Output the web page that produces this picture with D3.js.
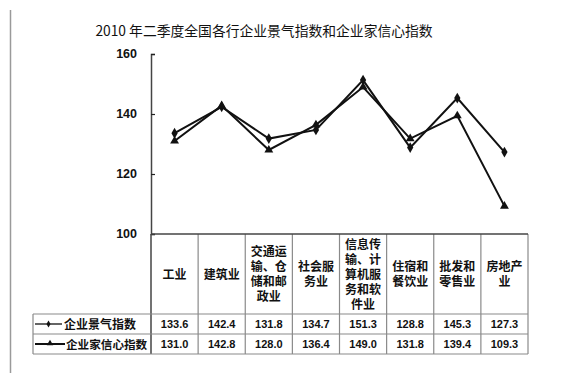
<!DOCTYPE html>
<html><head><meta charset="utf-8">
<script src="https://cdn.jsdelivr.net/npm/d3@7"></script>
<style>
html,body{margin:0;padding:0;background:#fff;}
text{font-family:"Liberation Sans","Noto Sans CJK SC",sans-serif;}
.cjk{font-family:"Noto Sans CJK SC","Liberation Sans",sans-serif;}
</style></head>
<body>
<svg id="chart" width="562" height="373"></svg>
<script>
const title = "2010 年二季度全国各行企业景气指数和企业家信心指数";
const categories = [
  ["工业"],
  ["建筑业"],
  ["交通运","输、仓","储和邮","政业"],
  ["社会服","务业"],
  ["信息传","输、计","算机服","务和软","件业"],
  ["住宿和","餐饮业"],
  ["批发和","零售业"],
  ["房地产","业"]
];
const seriesNames = ["企业景气指数", "企业家信心指数"];
const prosperity = [133.6, 142.4, 131.8, 134.7, 151.3, 128.8, 145.3, 127.3];
const confidence = [131.0, 142.8, 128.0, 136.4, 149.0, 131.8, 139.4, 109.3];
const yTicks = [100, 120, 140, 160];

(function(){
const svg = d3.select("#chart");
const pLeft = 151, pRight = 528, pTop = 54, pBottom = 234;
const tableLeft = 33, headerBottom = 314, row1Bottom = 334, row2Bottom = 354;

const x = d3.scaleBand().domain(d3.range(categories.length)).range([pLeft, pRight]);
const y = d3.scaleLinear().domain([100, 160]).range([pBottom, pTop]);

// left page line
svg.append("line").attr("x1",10.5).attr("x2",10.5).attr("y1",10).attr("y2",373)
  .attr("stroke","#9a9a9a").attr("stroke-width",1.5);

// title
svg.append("text").attr("class","cjk").attr("x",264).attr("y",36)
  .attr("text-anchor","middle").attr("font-size",13.8).attr("fill","#111").text(title);

// y axis
const yAxis = d3.axisRight(y).tickValues(yTicks).tickSize(4).tickFormat("");
const yg = svg.append("g").attr("transform",`translate(${pLeft},0)`).call(yAxis);
yg.select(".domain").attr("stroke","#444").attr("stroke-width",1.5);
yg.selectAll(".tick line").attr("stroke","#222").attr("stroke-width",1.2);
svg.selectAll(".ytl").data(yTicks).enter().append("text")
  .attr("x",137).attr("y",d=>y(d)+4).attr("text-anchor","end")
  .attr("font-size",12.5).attr("font-weight","bold").attr("fill","#111").text(d=>d);

// table grid
const grid = svg.append("g").attr("stroke","#8a8a8a").attr("stroke-width",1.2).attr("fill","none");
d3.range(categories.length+1).forEach(i=>{
  const xx = i===categories.length ? pRight : x(i);
  grid.append("line").attr("x1",xx).attr("x2",xx).attr("y1",pBottom).attr("y2",row2Bottom)
    .attr("stroke", i===0 ? "#444" : "#8a8a8a").attr("stroke-width", i===0 ? 1.5 : 1.2);
});
grid.append("line").attr("x1",tableLeft).attr("x2",tableLeft).attr("y1",headerBottom).attr("y2",row2Bottom);
[headerBottom,row1Bottom,row2Bottom].forEach(yy=>{
  grid.append("line").attr("x1",tableLeft).attr("x2",pRight).attr("y1",yy).attr("y2",yy);
});
svg.append("line").attr("x1",pLeft).attr("x2",pRight).attr("y1",pBottom).attr("y2",pBottom)
  .attr("stroke","#444").attr("stroke-width",1.5);

// category header labels
const lh = 15;
categories.forEach((lines,i)=>{
  const cx = x(i)+x.bandwidth()/2;
  const cy = (pBottom+headerBottom)/2;
  const t = svg.append("text").attr("class","cjk").attr("text-anchor","middle")
    .attr("font-size",12).attr("font-weight","bold").attr("fill","#111");
  lines.forEach((ln,j)=>{
    t.append("tspan").attr("x",cx).attr("y",cy + (j-(lines.length-1)/2)*lh + 4.5).text(ln);
  });
});

// values rows
const rows = [prosperity, confidence];
const rowCenters = [(headerBottom+row1Bottom)/2, (row1Bottom+row2Bottom)/2];
rows.forEach((vals,r)=>{
  svg.selectAll(".v"+r).data(vals).enter().append("text")
    .attr("x",(d,i)=>x(i)+x.bandwidth()/2).attr("y",rowCenters[r]+4)
    .attr("text-anchor","middle").attr("font-size",11).attr("font-weight","bold")
    .attr("fill","#111").text(d=>d.toFixed(1));
});

// legend in table
svg.append("line").attr("x1",35).attr("x2",62).attr("y1",rowCenters[0]).attr("y2",rowCenters[0])
  .attr("stroke","#111").attr("stroke-width",1.3);
svg.append("path").attr("d",d3.symbol(d3.symbolDiamond,14)())
  .attr("transform",`translate(48.5,${rowCenters[0]})`).attr("fill","#111");
svg.append("text").attr("class","cjk").attr("x",64).attr("y",rowCenters[0]+4.5)
  .attr("font-size",12).attr("font-weight","bold").attr("fill","#111").text(seriesNames[0]);
svg.append("line").attr("x1",35).attr("x2",65).attr("y1",rowCenters[1]).attr("y2",rowCenters[1])
  .attr("stroke","#111").attr("stroke-width",2);
svg.append("path").attr("d",d3.symbol(d3.symbolTriangle,18)())
  .attr("transform",`translate(50,${rowCenters[1]-0.5})`).attr("fill","#111");
svg.append("text").attr("class","cjk").attr("x",66).attr("y",rowCenters[1]+4.5)
  .attr("font-size",11.6).attr("font-weight","bold").attr("fill","#111").text(seriesNames[1]);

// lines
const line = d3.line().x((d,i)=>x(i)+x.bandwidth()/2).y(d=>y(d));
svg.append("path").datum(confidence).attr("d",line).attr("fill","none")
  .attr("stroke","#111").attr("stroke-width",2);
svg.append("path").datum(prosperity).attr("d",line).attr("fill","none")
  .attr("stroke","#111").attr("stroke-width",2);

// markers
svg.selectAll(".mk1").data(prosperity).enter().append("path")
  .attr("d",d3.symbol(d3.symbolDiamond,34)())
  .attr("transform",(d,i)=>`translate(${x(i)+x.bandwidth()/2},${y(d)})`).attr("fill","#111");
svg.selectAll(".mk2").data(confidence).enter().append("path")
  .attr("d",d3.symbol(d3.symbolTriangle,34)())
  .attr("transform",(d,i)=>`translate(${x(i)+x.bandwidth()/2},${y(d)})`).attr("fill","#111");
})();
</script>
</body></html>
